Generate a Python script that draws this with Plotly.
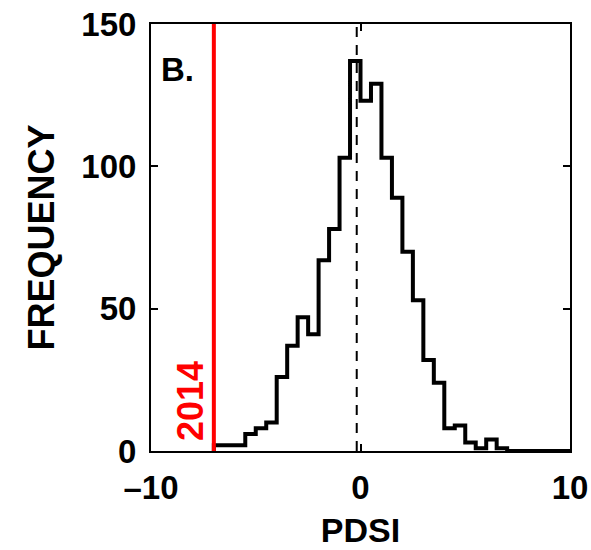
import plotly.graph_objects as go

# Histogram of PDSI values (bin width 0.5, from -7 to 7)
bin_edges = [-7.0, -6.5, -6.0, -5.5, -5.0, -4.5, -4.0, -3.5, -3.0, -2.5, -2.0, -1.5,
             -1.0, -0.5, 0.0, 0.5, 1.0, 1.5, 2.0, 2.5, 3.0, 3.5, 4.0, 4.5, 5.0, 5.5,
             6.0, 6.5, 7.0]
counts = [2, 2, 2, 6, 8, 10, 26, 37, 47, 41, 67, 78, 103, 137, 123, 129, 103, 89,
          70, 53, 32, 24, 8, 9, 3, 1, 4, 1]
mean_pdsi = -0.18
year_2014_pdsi = -7.0
x_ticks = [-10, 0, 10]
x_tick_labels = ["\u201310", "0", "10"]
y_ticks = [0, 50, 100, 150]

FONT = "Liberation Sans"

# stairs outline
xs = [bin_edges[0]] + bin_edges
ys = [0] + counts + [0]

fig = go.Figure()
fig.add_trace(go.Scatter(x=[mean_pdsi, mean_pdsi], y=[0, 150], mode="lines",
                         line=dict(color="black", width=2, dash="10px,8px"),
                         hoverinfo="skip", showlegend=False))
fig.add_trace(go.Scatter(x=xs + [10], y=ys + [0], mode="lines", line_shape="hv",
                         line=dict(color="black", width=4), showlegend=False))
fig.add_trace(go.Scatter(x=[year_2014_pdsi, year_2014_pdsi], y=[0, 150], mode="lines",
                         line=dict(color="#ff0000", width=4), showlegend=False))

fig.add_annotation(x=-9.6, y=134, xref="x", yref="y", text="<b>B.</b>",
                   showarrow=False, xanchor="left", yanchor="middle",
                   font=dict(family=FONT, size=33, color="black"))
fig.add_annotation(x=-8.15, y=17.5, xref="x", yref="y", text="<b>2014</b>",
                   showarrow=False, textangle=-90, xanchor="center", yanchor="middle",
                   font=dict(family=FONT, size=36, color="#ff0000"))

axis_common = dict(showline=True, linecolor="black", linewidth=2, mirror="ticks",
                   ticks="inside", ticklen=7, tickwidth=2, tickcolor="black",
                   showgrid=False, zeroline=False, automargin=False,
                   ticklabeloverflow="allow",
                   tickfont=dict(family=FONT, size=33, color="black", weight="bold"))

fig.update_layout(
    width=591, height=550,
    margin=dict(l=151, r=21, t=24, b=99),
    plot_bgcolor="white", paper_bgcolor="white",
    xaxis=dict(range=[-10, 10], tickvals=x_ticks, ticktext=x_tick_labels,
               ticklabelstandoff=6, **axis_common,
               title=dict(text="PDSI", standoff=14,
                          font=dict(family=FONT, size=34, color="black", weight="bold"))),
    yaxis=dict(range=[0, 150], tickvals=y_ticks, ticklabelstandoff=6, **axis_common,
               title=dict(text="FREQUENCY", standoff=16,
                          font=dict(family=FONT, size=36, color="black", weight="bold"))),
)

# remove the page's default body margin so the figure fills the window exactly
fig.write_html("out.html", config={"displayModeBar": False},
               post_script="document.body.style.margin='0';document.body.style.overflow='hidden';")
